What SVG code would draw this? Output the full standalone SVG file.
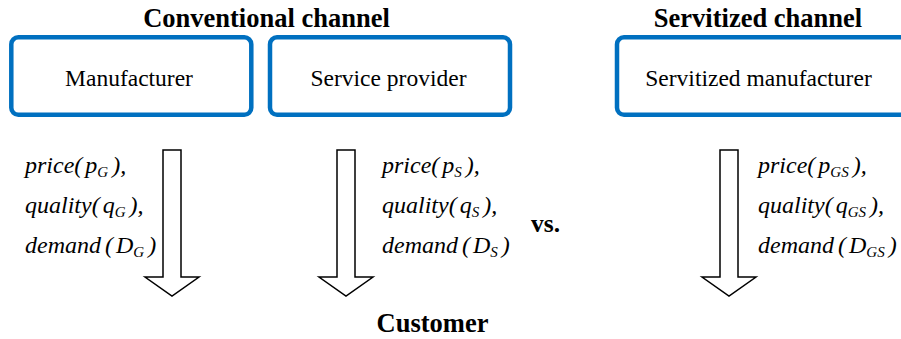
<svg xmlns="http://www.w3.org/2000/svg" width="901" height="339" viewBox="0 0 901 339">
<style>
.box{fill:#fff;stroke:#0070C0;stroke-width:4.5}
.arr{fill:#fff;stroke:#000;stroke-width:1.5}
</style>
<rect width="901" height="339" fill="#fff"/>
<text font-family="Liberation Serif, serif" font-weight="bold" font-size="26.5" text-anchor="middle" x="266.5" y="27">Conventional channel</text>
<text font-family="Liberation Serif, serif" font-weight="bold" font-size="26.5" text-anchor="middle" x="758" y="27">Servitized channel</text>
<g id="manufacturer">
<rect class="box" x="11.3" y="37.3" width="240" height="77.5" rx="7"/>
<text font-family="Liberation Serif, serif" font-size="23.5" text-anchor="middle" x="129" y="86">Manufacturer</text>
</g>
<g id="service-provider">
<rect class="box" x="270" y="37.3" width="240" height="77.5" rx="7"/>
<text font-family="Liberation Serif, serif" font-size="23.5" text-anchor="middle" x="388.5" y="86">Service provider</text>
</g>
<g id="servitized-manufacturer">
<rect class="box" x="617" y="37.3" width="300" height="77.5" rx="7"/>
<text font-family="Liberation Serif, serif" font-size="23.5" text-anchor="middle" x="758.5" y="86">Servitized manufacturer</text>
</g>
<g id="connectors">
<path class="arr" d="M163,150 H181 V277 H199 L172,296 L145,277 H163 Z"/>
<path class="arr" d="M337,150 H355 V277 H373 L346,296 L319,277 H337 Z"/>
<path class="arr" d="M720,150 H738 V277 H756 L729,296 L702,277 H720 Z"/>
</g>
<g id="labels-G">
<text font-family="Liberation Serif, serif" font-style="italic" font-size="24" x="25" y="173">price(<tspan dx="3">p</tspan><tspan font-size="15" dy="4">G</tspan><tspan dx="4" dy="-4">),</tspan></text>
<text font-family="Liberation Serif, serif" font-style="italic" font-size="24" x="25" y="213">quality(<tspan dx="3">q</tspan><tspan font-size="15" dy="4">G</tspan><tspan dx="4" dy="-4">),</tspan></text>
<text font-family="Liberation Serif, serif" font-style="italic" font-size="24" x="25" y="253">demand<tspan dx="4">(</tspan><tspan dx="3">D</tspan><tspan font-size="15" dy="4">G</tspan><tspan dx="4" dy="-4">)</tspan></text>
</g>
<g id="labels-S">
<text font-family="Liberation Serif, serif" font-style="italic" font-size="24" x="382" y="173">price(<tspan dx="3">p</tspan><tspan font-size="15" dy="4">S</tspan><tspan dx="4" dy="-4">),</tspan></text>
<text font-family="Liberation Serif, serif" font-style="italic" font-size="24" x="382" y="213">quality(<tspan dx="3">q</tspan><tspan font-size="15" dy="4">S</tspan><tspan dx="4" dy="-4">),</tspan></text>
<text font-family="Liberation Serif, serif" font-style="italic" font-size="24" x="382" y="253">demand<tspan dx="4">(</tspan><tspan dx="3">D</tspan><tspan font-size="15" dy="4">S</tspan><tspan dx="4" dy="-4">)</tspan></text>
</g>
<g id="labels-GS">
<text font-family="Liberation Serif, serif" font-style="italic" font-size="24" x="758" y="173">price(<tspan dx="3">p</tspan><tspan font-size="15" dy="4">GS</tspan><tspan dx="4" dy="-4">),</tspan></text>
<text font-family="Liberation Serif, serif" font-style="italic" font-size="24" x="758" y="213">quality(<tspan dx="3">q</tspan><tspan font-size="15" dy="4">GS</tspan><tspan dx="4" dy="-4">),</tspan></text>
<text font-family="Liberation Serif, serif" font-style="italic" font-size="24" x="758" y="253">demand<tspan dx="4">(</tspan><tspan dx="3">D</tspan><tspan font-size="15" dy="4">GS</tspan><tspan dx="4" dy="-4">)</tspan></text>
</g>
<text font-family="Liberation Serif, serif" font-weight="bold" font-size="25.5" text-anchor="middle" x="545.5" y="232">vs.</text>
<text font-family="Liberation Serif, serif" font-weight="bold" font-size="26.5" text-anchor="middle" x="432.5" y="332">Customer</text>
</svg>
